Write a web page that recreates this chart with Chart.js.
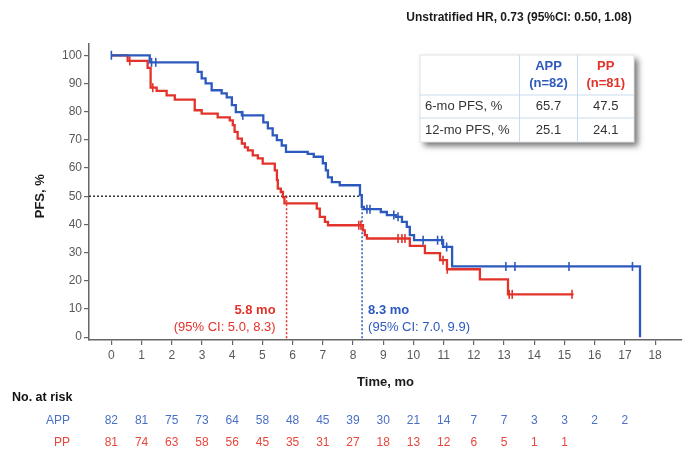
<!DOCTYPE html>
<html>
<head>
<meta charset="utf-8">
<title>PFS, APP vs PP</title>
<script src="https://cdn.jsdelivr.net/npm/chart.js@4.4.1/dist/chart.umd.min.js"></script>
<style>
  html, body { margin: 0; padding: 0; background: #fff; }
  #wrap { width: 692px; height: 465px; }
</style>
</head>
<body>
<div id="wrap"><canvas id="chart" width="692" height="465"></canvas></div>
<script>
// axis ticks
const xTicks = [0, 1, 2, 3, 4, 5, 6, 7, 8, 9, 10, 11, 12, 13, 14, 15, 16, 17, 18];
const yTicks = [0, 10, 20, 30, 40, 50, 60, 70, 80, 90, 100];

// APP: event times (mo) and PFS (%) after each step
const appTimes = [0, 1.27, 2.86, 2.99, 3.12, 3.32, 3.65, 3.82, 3.99, 4.12, 4.32, 5.03, 5.18, 5.34, 5.48, 5.64, 5.78,
  6.5, 6.7, 7.0, 7.1, 7.17, 7.3, 7.56, 8.23, 8.29, 8.36, 8.92, 9.12, 9.42, 9.62, 9.78, 9.88, 10.02, 10.98, 11.28, 17.5];
const appSurv = [100, 97.5, 94.1, 91.8, 90.0, 87.6, 86.5, 85.1, 82.3, 79.8, 78.7, 76.2, 74.1, 71.6, 69.9, 68.0, 65.7,
  65.0, 64.0, 61.7, 59.2, 56.7, 55.0, 53.9, 50.4, 46.2, 45.4, 44.4, 43.3, 42.7, 40.9, 39.1, 36.2, 34.4, 32.0, 25.1, 0];
const appCensor = [0, 1.33, 1.47, 4.35, 8.46, 8.56, 9.35, 9.49, 10.32, 10.8, 10.94, 11.1, 13.06, 13.36, 15.15, 17.25];

// PP
const ppTimes = [0, 0.54, 1.2, 1.3, 1.5, 1.83, 2.1, 2.76, 2.99, 3.52, 3.92, 4.02, 4.08, 4.18, 4.32, 4.42, 4.52, 4.68,
  4.85, 5.01, 5.41, 5.48, 5.51, 5.61, 5.68, 5.73, 6.8, 6.9, 7.07, 7.17, 8.33, 8.39, 8.46, 9.88, 10.38, 10.88, 11.11,
  12.2, 13.13, 15.3];
const ppSurv = [100, 98.0, 95.5, 88.5, 87.4, 85.8, 84.3, 80.5, 79.3, 78.0, 76.9, 75.2, 72.8, 70.4, 68.7, 67.3, 66.3, 64.5,
  63.4, 61.6, 59.2, 55.7, 52.7, 51.5, 49.7, 47.5, 45.6, 42.7, 40.9, 39.7, 37.9, 36.2, 35.0, 32.4, 29.8, 27.3, 24.1,
  20.5, 15.2, 15.2];
const ppCensor = [0.61, 1.37, 8.19, 8.26, 9.49, 9.62, 9.72, 10.98, 11.12, 13.17, 13.27, 15.25];

// medians (mo)
const medianApp = 8.3;
const medianPp = 5.8;

// number at risk
const appAtRisk = [82, 81, 75, 73, 64, 58, 48, 45, 39, 30, 21, 14, 7, 7, 3, 3, 2, 2];
const ppAtRisk = [81, 74, 63, 58, 56, 45, 35, 31, 27, 18, 13, 12, 6, 5, 1, 1];

// inset table
const tableRows = ["6-mo PFS, %", "12-mo PFS, %"];
const appPfs = ["65.7", "25.1"];
const ppPfs = ["47.5", "24.1"];

const hrText = "Unstratified HR, 0.73 (95%CI: 0.50, 1.08)";

const BLUE = "#2c59bd";
const RED = "#e3322a";
const BLUE_TXT = "#4a6fc6";
const RED_TXT = "#e8463c";
const FONT = "'Liberation Sans', Arial, sans-serif";

const X_MIN = -0.74, X_MAX = 18.89, Y_MIN = -1, Y_MAX = 104;

function levelAt(times, surv, t) {
  let v = surv[0];
  for (let i = 0; i < times.length; i++) {
    if (times[i] <= t) v = surv[i];
  }
  return v;
}

const appCurve = appTimes.map((t, i) => ({ x: t, y: appSurv[i] }));
const ppCurve = ppTimes.map((t, i) => ({ x: t, y: ppSurv[i] }));
const appMarks = appCensor.map(t => ({ x: t, y: levelAt(appTimes, appSurv, t) }));
const ppMarks = ppCensor.map(t => ({ x: t, y: levelAt(ppTimes, ppSurv, t) }));

function censorSet(data, color) {
  return {
    type: "scatter", data,
    pointStyle: "line", rotation: 90, pointRadius: 4.5,
    borderColor: color, backgroundColor: color, pointBorderWidth: 1.6
  };
}

function dotted(data, color) {
  return {
    data, borderColor: color, borderWidth: 1.5, borderDash: [2, 2],
    pointRadius: 0, stepped: false, fill: false
  };
}

const overlay = {
  id: "overlay",
  afterDraw(chart) {
    const c = chart.ctx;
    const x = chart.scales.x, y = chart.scales.y;
    const area = chart.chartArea;
    c.save();
    c.textBaseline = "middle";

    // HR title
    c.fillStyle = "#1a1a1a";
    c.font = "bold 12px " + FONT;
    c.textAlign = "center";
    c.fillText(hrText, 519, 18);

    // axis titles
    c.font = "bold 13px " + FONT;
    c.fillText("Time, mo", (area.left + area.right) / 2, 382);
    c.save();
    c.translate(40, y.getPixelForValue(50));
    c.rotate(-Math.PI / 2);
    c.fillText("PFS, %", 0, 0);
    c.restore();

    // median labels
    const y0 = y.getPixelForValue(0);
    c.textAlign = "right";
    c.fillStyle = RED;
    c.font = "bold 13px " + FONT;
    c.fillText(medianPp.toFixed(1) + " mo", x.getPixelForValue(medianPp) - 11, y0 - 27);
    c.font = "13px " + FONT;
    c.fillText("(95% CI: 5.0, 8.3)", x.getPixelForValue(medianPp) - 11, y0 - 10);
    c.textAlign = "left";
    c.fillStyle = BLUE;
    c.font = "bold 13px " + FONT;
    c.fillText(medianApp.toFixed(1) + " mo", x.getPixelForValue(medianApp) + 6, y0 - 27);
    c.font = "13px " + FONT;
    c.fillText("(95% CI: 7.0, 9.9)", x.getPixelForValue(medianApp) + 6, y0 - 10);

    // number at risk
    c.fillStyle = "#111";
    c.font = "bold 12.5px " + FONT;
    c.textAlign = "left";
    c.fillText("No. at risk", 12, 398);
    c.font = "12px " + FONT;
    c.textAlign = "right";
    c.fillStyle = BLUE_TXT;
    c.fillText("APP", 70, 421);
    c.fillStyle = RED_TXT;
    c.fillText("PP", 70, 443);
    c.textAlign = "center";
    appAtRisk.forEach((n, i) => {
      c.fillStyle = BLUE_TXT;
      c.fillText(String(n), x.getPixelForValue(xTicks[i]), 421);
    });
    ppAtRisk.forEach((n, i) => {
      c.fillStyle = RED_TXT;
      c.fillText(String(n), x.getPixelForValue(xTicks[i]), 443);
    });

    // inset table
    const L = 420, R = 634, T = 55, B = 142;
    const c1 = 519.5, c2 = 577.5, r1 = 95, r2 = 118;
    c.save();
    c.shadowColor = "rgba(0,0,0,0.55)";
    c.shadowBlur = 6;
    c.shadowOffsetX = 4;
    c.shadowOffsetY = 4;
    c.fillStyle = "#fff";
    c.fillRect(L, T, R - L, B - T);
    c.restore();
    c.strokeStyle = "#e2e2e2";
    c.lineWidth = 1;
    c.strokeRect(L, T, R - L, B - T);
    c.strokeStyle = "#c9dced";
    c.beginPath();
    c.moveTo(c1, T); c.lineTo(c1, B);
    c.moveTo(c2, T); c.lineTo(c2, B);
    c.moveTo(L, r1); c.lineTo(R, r1);
    c.moveTo(L, r2); c.lineTo(R, r2);
    c.stroke();

    const m1 = (c1 + c2) / 2, m2 = (c2 + R) / 2;
    c.font = "bold 13px " + FONT;
    c.fillStyle = BLUE;
    c.fillText("APP", m1, 66);
    c.fillText("(n=" + appAtRisk[0] + ")", m1, 83);
    c.fillStyle = RED;
    c.fillText("PP", m2, 66);
    c.fillText("(n=" + ppAtRisk[0] + ")", m2, 83);

    c.font = "13px " + FONT;
    c.fillStyle = "#333";
    const rowY = [106.5, 130];
    tableRows.forEach((lab, i) => {
      c.textAlign = "left";
      c.fillText(lab, L + 5, rowY[i]);
      c.textAlign = "center";
      c.fillText(appPfs[i], m1, rowY[i]);
      c.fillText(ppPfs[i], m2, rowY[i]);
    });

    c.restore();
  }
};

const ctx = document.getElementById("chart");

new Chart(ctx, {
  type: "line",
  data: {
    datasets: [
      { data: appCurve, borderColor: BLUE, borderWidth: 2.3, stepped: true, pointRadius: 0, fill: false },
      censorSet(appMarks, BLUE),
      { data: ppCurve, borderColor: RED, borderWidth: 2.3, stepped: true, pointRadius: 0, fill: false },
      censorSet(ppMarks, RED),
      dotted([{ x: X_MIN, y: 50 }, { x: medianApp, y: 50 }], "#333"),
      dotted([{ x: medianPp, y: 50 }, { x: medianPp, y: Y_MIN }], RED),
      dotted([{ x: medianApp, y: 50 }, { x: medianApp, y: Y_MIN }], BLUE)
    ]
  },
  options: {
    responsive: false,
    animation: false,
    events: [],
    layout: { padding: { left: 0, right: 10, top: 44, bottom: 0 } },
    plugins: { legend: { display: false }, tooltip: { enabled: false }, title: { display: false } },
    scales: {
      x: {
        type: "linear",
        min: X_MIN, max: X_MAX,
        afterFit(scale) { scale.height = 125; },
        afterBuildTicks(scale) { scale.ticks = xTicks.map(v => ({ value: v })); },
        grid: { drawOnChartArea: false, drawTicks: true, tickLength: 5, color: "#666", lineWidth: 1.2 },
        border: { display: true, color: "#666", width: 1.5 },
        ticks: { color: "#595959", font: { family: FONT, size: 12 }, padding: 3, maxRotation: 0, autoSkip: false }
      },
      y: {
        type: "linear",
        min: Y_MIN, max: Y_MAX,
        afterFit(scale) { scale.width = 89; },
        afterBuildTicks(scale) { scale.ticks = yTicks.map(v => ({ value: v })); },
        grid: { drawOnChartArea: false, drawTicks: true, tickLength: 5, color: "#666", lineWidth: 1.2 },
        border: { display: true, color: "#666", width: 1.5 },
        ticks: { color: "#595959", font: { family: FONT, size: 12 }, padding: 2, autoSkip: false }
      }
    }
  },
  plugins: [overlay]
});
</script>
</body>
</html>
